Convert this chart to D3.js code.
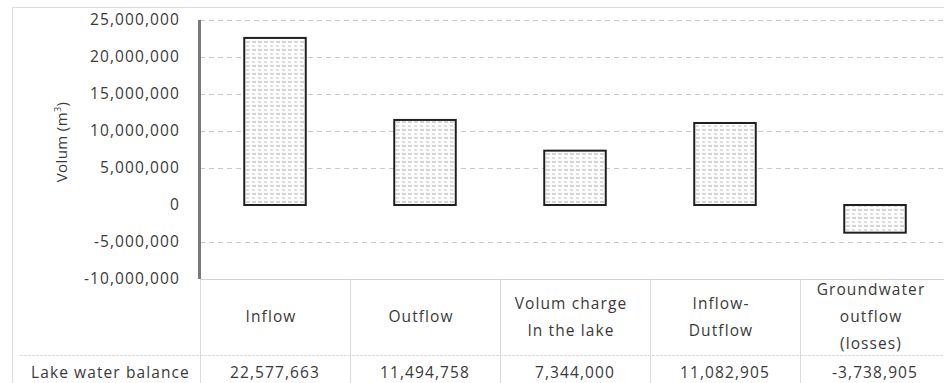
<!DOCTYPE html>
<html>
<head>
<meta charset="utf-8">
<script src="https://cdn.jsdelivr.net/npm/d3@7"></script>
<style>
  html, body { margin: 0; padding: 0; background: #fff; }
  svg { display: block; }
  text { font-family: "Open Sans", "DejaVu Sans", sans-serif; fill: #3a3a3a; }
</style>
</head>
<body>
<svg id="chart" width="944" height="383"></svg>
<script>
// Lake water balance components (m³)
const categories = [
  ["Inflow"],
  ["Outflow"],
  ["Volum charge", "In the lake"],
  ["Inflow-", "Dutflow"],
  ["Groundwater", "outflow", "(losses)"]
];
const values = [22577663, 11494758, 7344000, 11082905, -3738905];
const valueLabels = ["22,577,663", "11,494,758", "7,344,000", "11,082,905", "-3,738,905"];
const yTicks = [25000000, 20000000, 15000000, 10000000, 5000000, 0, -5000000, -10000000];
const yTickLabels = ["25,000,000", "20,000,000", "15,000,000", "10,000,000", "5,000,000", "0", "-5,000,000", "-10,000,000"];
const rowTitle = "Lake water balance";

const svg = d3.select("#chart");
const W = 944, H = 383;
const FS = 15.5;          // body font size
const LS = "1.1px";       // letter spacing

const plot = { left: 200, right: 950, top: 20, bottom: 279 };
const tableRowSplit = 355;

const x = d3.scaleBand()
  .domain(d3.range(values.length))
  .range([plot.left, plot.right])
  .paddingInner(0.59)
  .paddingOuter(0.295);

const y = d3.scaleLinear()
  .domain([-10000000, 25000000])
  .range([plot.bottom, plot.top]);

// Dash-pattern fill used inside the bars
const defs = svg.append("defs");
const pat = defs.append("pattern")
  .attr("id", "dashfill")
  .attr("patternUnits", "userSpaceOnUse")
  .attr("width", 12).attr("height", 8);
pat.append("rect").attr("width", 12).attr("height", 8).attr("fill", "#fff");
pat.append("line").attr("x1", 0).attr("x2", 12).attr("y1", 2).attr("y2", 2)
  .attr("stroke", "#a8a8a8").attr("stroke-width", 1).attr("stroke-dasharray", "4,2");
pat.append("line").attr("x1", 0).attr("x2", 12).attr("y1", 6).attr("y2", 6)
  .attr("stroke", "#bdbdbd").attr("stroke-width", 1).attr("stroke-dasharray", "3,3");

// Outer frame
svg.append("line").attr("x1", 12).attr("x2", W).attr("y1", 7.5).attr("y2", 7.5)
  .attr("stroke", "#dcdcdc").attr("stroke-width", 1);
svg.append("line").attr("x1", 12.5).attr("x2", 12.5).attr("y1", 7).attr("y2", H)
  .attr("stroke", "#dcdcdc").attr("stroke-width", 1);

// Gridlines
svg.append("g")
  .selectAll("line")
  .data(yTicks.filter(t => t !== 0 && t !== -10000000))
  .join("line")
  .attr("x1", plot.left).attr("x2", W)
  .attr("y1", d => Math.round(y(d)) + 0.5).attr("y2", d => Math.round(y(d)) + 0.5)
  .attr("stroke", "#c8c8c8").attr("stroke-width", 1)
  .attr("stroke-dasharray", "5,4");

// Y axis tick labels (no tick marks)
const yAxis = d3.axisLeft(y)
  .tickValues(yTicks)
  .tickFormat((d, i) => yTickLabels[i])
  .tickSize(0)
  .tickPadding(20);
const gy = svg.append("g")
  .attr("transform", `translate(${plot.left},0)`)
  .call(yAxis);
gy.select(".domain").remove();
gy.selectAll("text")
  .style("font-family", "'Open Sans', sans-serif")
  .style("font-size", FS + "px")
  .style("letter-spacing", LS)
  .attr("fill", "#3a3a3a");

// Bars
svg.append("g")
  .selectAll("rect")
  .data(values)
  .join("rect")
  .attr("x", (d, i) => x(i))
  .attr("width", x.bandwidth())
  .attr("y", d => y(Math.max(0, d)))
  .attr("height", d => Math.abs(y(d) - y(0)))
  .attr("fill", "url(#dashfill)")
  .attr("stroke", "#1f1f1f")
  .attr("stroke-width", 2);

// Value axis line
svg.append("line")
  .attr("x1", plot.left - 0.5).attr("x2", plot.left - 0.5)
  .attr("y1", plot.top).attr("y2", plot.bottom)
  .attr("stroke", "#7a7a7a").attr("stroke-width", 3);

// Y axis title
svg.append("text")
  .attr("transform", `translate(67,142) rotate(-90)`)
  .attr("text-anchor", "middle")
  .attr("font-size", 15)
  .style("letter-spacing", "0.4px")
  .html('Volum (m<tspan dy="-6" font-size="9">3</tspan><tspan dy="6">)</tspan>');

// Data table grid
const tbl = svg.append("g");
tbl.append("line").attr("x1", plot.left).attr("x2", W)
  .attr("y1", plot.bottom + 0.5).attr("y2", plot.bottom + 0.5)
  .attr("stroke", "#d0d0d0");
tbl.append("line").attr("x1", 20).attr("x2", W)
  .attr("y1", tableRowSplit + 0.5).attr("y2", tableRowSplit + 0.5)
  .attr("stroke", "#dadada").attr("stroke-dasharray", "3,1");
tbl.selectAll(".vline")
  .data(d3.range(values.length))
  .join("line")
  .attr("class", "vline")
  .attr("x1", i => Math.round(plot.left + i * x.step()) + 0.5)
  .attr("x2", i => Math.round(plot.left + i * x.step()) + 0.5)
  .attr("y1", plot.bottom)
  .attr("y2", H)
  .attr("stroke", "#dadada");

// Category labels
const lineGap = 27;
const catG = tbl.selectAll(".cat")
  .data(categories)
  .join("text")
  .attr("class", "cat")
  .attr("text-anchor", "middle")
  .attr("font-size", FS)
  .style("letter-spacing", LS)
  .attr("x", (d, i) => x(i) + x.bandwidth() / 2 - 4)
  .attr("y", d => 317 - (d.length - 1) * lineGap / 2 + 5);
catG.selectAll("tspan")
  .data(d => d)
  .join("tspan")
  .attr("x", function () { return d3.select(this.parentNode).attr("x"); })
  .attr("dy", (d, i) => i === 0 ? 0 : lineGap)
  .text(d => d);

// Value row
tbl.append("text")
  .attr("x", 31).attr("y", 378)
  .attr("font-size", FS)
  .style("letter-spacing", LS)
  .text(rowTitle);
tbl.selectAll(".val")
  .data(valueLabels)
  .join("text")
  .attr("class", "val")
  .attr("text-anchor", "middle")
  .attr("font-size", FS)
  .style("letter-spacing", LS)
  .attr("x", (d, i) => x(i) + x.bandwidth() / 2)
  .attr("y", 378)
  .text(d => d);
</script>
</body>
</html>
